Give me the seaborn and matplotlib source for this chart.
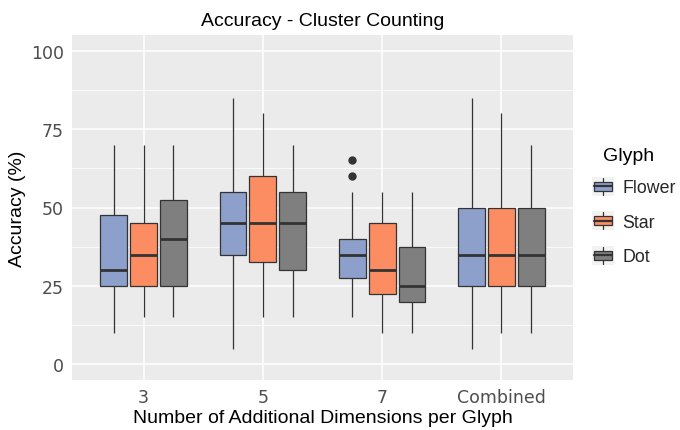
import numpy as np
import pandas as pd
import matplotlib
matplotlib.use("Agg")
import matplotlib.pyplot as plt
import seaborn as sns
from matplotlib.patches import Rectangle, Patch
from matplotlib.lines import Line2D
from matplotlib.legend_handler import HandlerBase

# ---- data ----
groups = ["3", "5", "7", "Combined"]
glyphs = ["Flower", "Star", "Dot"]
colors = ["#8DA0CB", "#FC8D62", "#7F7F7F"]

# five-number summaries per glyph, one value per group
whisker_low = {
    "Flower": [10, 5, 15, 5],
    "Star":   [15, 15, 10, 10],
    "Dot":    [15, 15, 10, 10],
}
q1 = {
    "Flower": [25, 35, 27.5, 25],
    "Star":   [25, 32.5, 22.5, 25],
    "Dot":    [25, 30, 20, 25],
}
median = {
    "Flower": [30, 45, 35, 35],
    "Star":   [35, 45, 30, 35],
    "Dot":    [40, 45, 25, 35],
}
q3 = {
    "Flower": [47.5, 55, 40, 50],
    "Star":   [45, 60, 45, 50],
    "Dot":    [52.5, 55, 37.5, 50],
}
whisker_high = {
    "Flower": [70, 85, 55, 85],
    "Star":   [70, 80, 55, 80],
    "Dot":    [70, 70, 55, 70],
}
outliers = {
    ("7", "Flower"): [60, 65],
}

# build sample sets whose box statistics equal the summaries above
rows = []
k = 40
for g_i, grp in enumerate(groups):
    for gl in glyphs:
        vals = ([whisker_low[gl][g_i]] + [q1[gl][g_i]] * k + [median[gl][g_i]] * k
                + [q3[gl][g_i]] * k + [whisker_high[gl][g_i]]
                + outliers.get((grp, gl), []))
        for v in vals:
            rows.append({"dims": grp, "Glyph": gl, "acc": v})
df = pd.DataFrame(rows)

# ---- styling ----
sns.set_theme(style="darkgrid")
plt.rcParams["font.family"] = ["Liberation Sans", "DejaVu Sans"]
FS = 14
LFS = 12.8
TFS = 12.5
edge = "#333333"

fig = plt.figure(figsize=(6.8, 4.31), dpi=100)
W, H = 680, 431
ax = fig.add_axes([72 / W, 1 - 381 / H, (573 - 72) / W, (381 - 36) / H])
ax.set_facecolor("#EBEBEB")

sns.boxplot(
    data=df, x="dims", y="acc", hue="Glyph", order=groups, hue_order=glyphs,
    palette=colors, saturation=1, width=0.75, gap=0.1, whis=1.5,
    linecolor=edge, linewidth=0.9, fliersize=5, showcaps=False,
    flierprops=dict(marker="o", markerfacecolor=edge, markeredgecolor=edge),
    medianprops=dict(linewidth=2.0, color=edge),
    whiskerprops=dict(color=edge),
    legend=False, ax=ax, zorder=3,
)

ax.set_ylim(-5, 105)
ax.set_xlim(-0.6, 3.6)
ax.set_yticks([0, 25, 50, 75, 100])
ax.set_yticks([12.5, 37.5, 62.5, 87.5], minor=True)
ax.grid(True, which="major", color="white", linewidth=1.1)
ax.grid(True, which="minor", axis="y", color="white", linewidth=0.55)
ax.set_axisbelow(True)
for s in ax.spines.values():
    s.set_visible(False)
ax.tick_params(axis="both", which="major", length=3.5, width=0.9, color=edge,
               labelsize=TFS, labelcolor="#4D4D4D", pad=2.5)
ax.tick_params(axis="both", which="minor", length=0)
for lab in ax.get_xticklabels() + ax.get_yticklabels():
    lab.set_fontfamily("DejaVu Sans")

ax.set_xlabel("Number of Additional Dimensions per Glyph", fontsize=FS, color="black", labelpad=2)
ax.set_ylabel("Accuracy (%)", fontsize=FS, color="black", labelpad=3)
ax.set_title("Accuracy - Cluster Counting", fontsize=FS, color="black", pad=7)


class BoxHandler(HandlerBase):
    def create_artists(self, legend, orig_handle, xdescent, ydescent, width, height, fontsize, trans):
        x0, y0 = -xdescent, -ydescent
        c = orig_handle.get_facecolor()
        arts = []
        arts.append(Rectangle((x0, y0), width, height, facecolor="#F2F2F2", edgecolor="none", transform=trans))
        bx0, bw = x0 + width * 0.1, width * 0.8
        by0, bh = y0 + height * 0.25, height * 0.5
        cx, cy = x0 + width / 2, y0 + height / 2
        arts.append(Line2D([cx, cx], [y0 + height * 0.05, by0], color=edge, lw=0.9, transform=trans))
        arts.append(Line2D([cx, cx], [by0 + bh, y0 + height * 0.95], color=edge, lw=0.9, transform=trans))
        arts.append(Rectangle((bx0, by0), bw, bh, facecolor=c, edgecolor=edge, lw=0.9, transform=trans))
        arts.append(Line2D([bx0, bx0 + bw], [cy, cy], color=edge, lw=1.6, transform=trans))
        return arts


px = LFS * 100 / 72
handles = [Patch(facecolor=c, label=g) for g, c in zip(glyphs, colors)]
fig.legend(handles=handles, labels=glyphs, handler_map={Patch: BoxHandler()},
           loc="upper left", bbox_to_anchor=(592 / W, 1 - 178 / H), frameon=False,
           fontsize=LFS, handlelength=22 / px, handleheight=22 / px,
           handletextpad=8 / px, labelspacing=0.85, borderpad=0, borderaxespad=0)
fig.text(603 / W, 1 - 161 / H, "Glyph", fontsize=FS, color="black", va="baseline", ha="left")

fig.savefig("out.png", dpi=100, facecolor="white")
